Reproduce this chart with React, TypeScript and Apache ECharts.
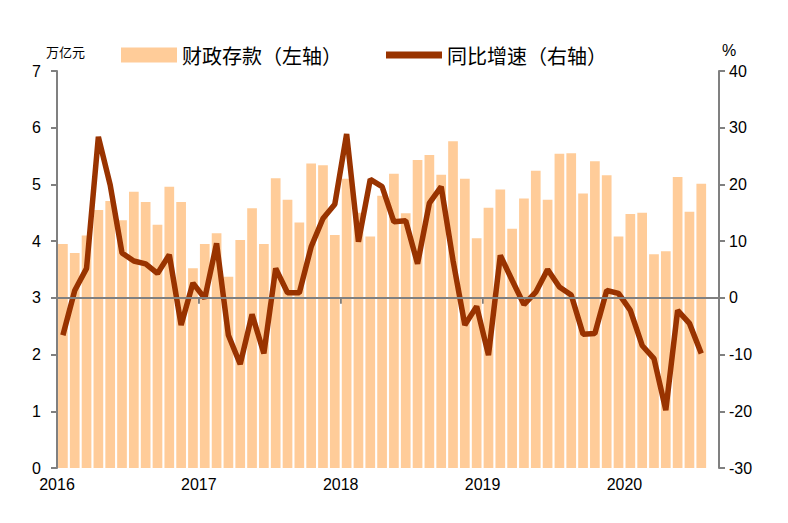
import React, { useEffect, useRef } from 'react';
import * as echarts from 'echarts';

// 2016-01 .. 2020-07, plus one empty slot at the end
const months: string[] = [];
for (let y = 2016; y <= 2020; y++) for (let m = 1; m <= 12; m++) if (months.length < 56) months.push(`${y}-${m}`);

const deposits = [
  3.95, 3.79, 4.1, 4.55, 4.71, 4.37, 4.87, 4.69, 4.29, 4.96, 4.69, 3.52,
  3.95, 4.14, 3.37, 4.02, 4.58, 3.95, 5.11, 4.73, 4.33, 5.37, 5.34, 4.11,
  5.1, 4.5, 4.08, 4.8, 5.19, 4.49, 5.43, 5.52, 5.17, 5.76, 5.1, 4.05,
  4.59, 4.91, 4.22, 4.75, 5.24, 4.73, 5.54, 5.55, 4.84, 5.41, 5.16, 4.08,
  4.48, 4.5, 3.77, 3.82, 5.13, 4.52, 5.01,
];
const growth = [
  -6.6, 1.3, 5.2, 28.4, 19.9, 7.9, 6.5, 6.0, 4.3, 7.6, -4.8, 2.6,
  -0.1, 9.6, -6.6, -11.7, -2.9, -9.8, 5.2, 0.9, 0.9, 9.0, 14.0, 16.5,
  28.9, 9.9, 20.9, 19.6, 13.4, 13.6, 6.0, 16.7, 19.6, 6.6, -4.8, -1.5,
  -10.1, 7.5, 3.1, -1.2, 1.0, 5.0, 1.9, 0.5, -6.4, -6.3, 1.3, 0.8,
  -2.2, -8.4, -10.7, -19.8, -2.2, -4.5, -9.8,
];
const yearTicks = [2016, 2017, 2018, 2019, 2020];

const gray = '#808080';
const font = '"Noto Sans CJK SC", sans-serif';

const App: React.FC = () => {
  const ref = useRef<HTMLDivElement | null>(null);

  useEffect(() => {
    if (!ref.current) return;
    const chart = echarts.init(ref.current, null, { renderer: 'svg' });
    chart.setOption({
      animation: false,
      grid: { left: 49, right: 61, top: 63, bottom: 47 },
      graphic: [
        { type: 'rect', shape: { x: -8, y: -7, width: 788, height: 2 }, style: { fill: '#7a1a1a' } },
        { type: 'rect', shape: { x: -8, y: 512, width: 788, height: 2 }, style: { fill: '#7a1a1a' } },
        { type: 'text', left: 38, top: 37, style: { text: '万亿元', font: `13px ${font}`, fill: '#000' } },
        { type: 'text', left: 714, top: 34, style: { text: '%', font: `16px Arial`, fill: '#000' } },
      ],
      legend: {
        top: 32,
        left: 108,
        itemGap: 44,
        itemWidth: 56,
        itemHeight: 15,
        textStyle: { fontFamily: font, fontSize: 20, color: '#000' },
        data: [
          { name: '财政存款（左轴）', icon: 'rect' },
          { name: '同比增速（右轴）', icon: 'path://M0,0h56v7h-56z', itemStyle: { color: '#993300' } },
        ],
      },
      xAxis: [
        {
          type: 'category', data: months, boundaryGap: true,
          axisLine: { show: false }, axisTick: { show: false }, axisLabel: { show: false },
        },
        {
          type: 'value', min: 0, max: 56, interval: 12, position: 'bottom',
          axisLine: { show: true, lineStyle: { color: gray, width: 2 } },
          axisTick: { show: true, length: 6, lineStyle: { color: gray, width: 2 } },
          splitLine: { show: false },
          axisLabel: {
            color: '#000', fontSize: 16, fontFamily: 'Arial', margin: 8,
            formatter: (v: number) => (v % 12 === 0 && v / 12 < yearTicks.length ? String(yearTicks[v / 12]) : ''),
          },
        },
      ],
      yAxis: [
        {
          type: 'value', min: 0, max: 7, interval: 1,
          axisLine: { show: true, lineStyle: { color: gray, width: 2 } },
          axisTick: { show: true, length: 6, lineStyle: { color: gray, width: 2 } },
          splitLine: { show: false },
          axisLabel: { color: '#000', fontSize: 16, fontFamily: 'Arial', margin: 16 },
        },
        {
          type: 'value', min: -30, max: 40, interval: 10, position: 'right',
          axisLine: { show: true, lineStyle: { color: gray, width: 2 } },
          axisTick: { show: true, length: 6, lineStyle: { color: gray, width: 2 } },
          splitLine: { show: false },
          axisLabel: { color: '#000', fontSize: 16, fontFamily: 'Arial', margin: 10 },
        },
      ],
      series: [
        {
          name: '财政存款（左轴）', type: 'bar', data: deposits, xAxisIndex: 0, yAxisIndex: 0,
          barCategoryGap: '18%', itemStyle: { color: '#ffcc99' },
        },
        {
          name: '同比增速（右轴）', type: 'line', data: growth, xAxisIndex: 0, yAxisIndex: 1,
          symbol: 'none', lineStyle: { color: '#993300', width: 5.5 }, itemStyle: { color: '#993300' },
          markLine: {
            silent: true, symbol: 'none', label: { show: false },
            lineStyle: { color: gray, width: 2, type: 'solid' },
            data: [{ yAxis: 0 }],
          },
          z: 3,
        },
      ],
    });
    return () => chart.dispose();
  }, []);

  return <div ref={ref} style={{ width: 772, height: 507 }} />;
};

export default App;
